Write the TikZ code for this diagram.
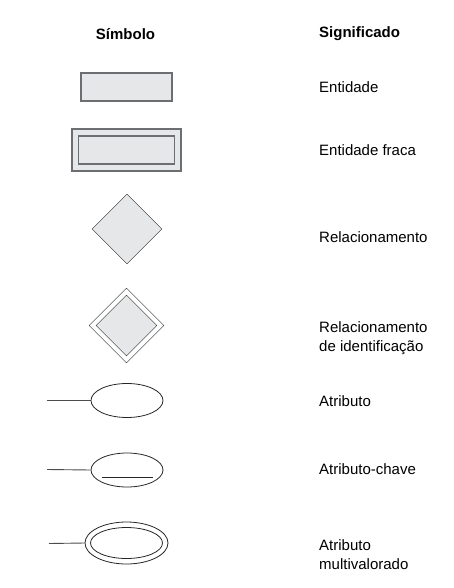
\documentclass[tikz,border=0pt]{standalone}
\usepackage{fontspec}
\setmainfont{Liberation Sans}
\usetikzlibrary{shapes,positioning,calc}
\definecolor{symfill}{HTML}{E6E7E8}
\definecolor{symline}{HTML}{6D6E71}

\begin{document}
\begin{tikzpicture}[
  x=1pt, y=-1pt,
  head/.style={font=\fontsize{15}{17}\selectfont\bfseries},
  meaning/.style={anchor=west, align=left, inner sep=0pt, font=\fontsize{15}{19}\selectfont},
  ent/.style={rectangle, draw=symline, line width=1.2pt, fill=symfill, inner sep=0pt},
  rel/.style={diamond, draw=black!85, fill=symfill, inner sep=0pt, minimum width=70pt, minimum height=70pt},
  attr/.style={ellipse, draw=black!85, line width=0.8pt, inner sep=0pt, minimum width=72pt, minimum height=34pt},
  link/.style={draw=black!70, line width=0.9pt}
]
  \useasboundingbox (0,0) rectangle (453,588);
  % column heads
  \node[head] (hsym) at (125.5,34) {Símbolo};
  \node[head, anchor=west, inner sep=0pt] (hsig) at (319,34) {Significado};

  % entidade
  \node[ent, minimum width=91pt, minimum height=28pt] (entity) at (126.5,87) {};
  \node[meaning] (mentity) at (319,87) {Entidade};

  % entidade fraca
  \node[ent, minimum width=109pt, minimum height=42pt] (weakout) at (126.5,150) {};
  \node[ent, minimum width=96pt, minimum height=28pt] (weakin) at (weakout.center) {};
  \node[meaning] (mweak) at (319,150) {Entidade fraca};

  % relacionamento
  \node[rel] (relation) at (127,229) {};
  \node[meaning] (mrelation) at (319,237) {Relacionamento};

  % relacionamento de identificacao
  \node[rel, fill=white, minimum width=75pt, minimum height=75pt] (identout) at (126.5,325.5) {};
  \node[rel, minimum width=61pt, minimum height=61pt] (identin) at (identout.center) {};
  \node[meaning] (mident) at (319,338.5) {Relacionamento\\de identificação};

  % atributo
  \node[attr] (attrib) at (127,400.5) {};
  \coordinate (attribend) at (47,400.5);
  \draw[link] (attribend) -- (attrib.west);
  \node[meaning] (mattrib) at (319,401) {Atributo};

  % atributo-chave
  \node[attr] (keyattr) at (127,470) {};
  \coordinate (keyend) at (47,469.5);
  \draw[link] (keyend) -- (keyattr.west);
  \draw[black!85, line width=0.9pt] ([xshift=-25pt,yshift=-7pt]keyattr.center) -- ([xshift=26pt,yshift=-7pt]keyattr.center);
  \node[meaning] (mkey) at (319,469) {Atributo-chave};

  % atributo multivalorado
  \node[attr, minimum width=83pt, minimum height=42pt] (multiout) at (126.5,543) {};
  \node[attr, minimum width=72pt, minimum height=31pt] (multiin) at (multiout.center) {};
  \coordinate (multiend) at (49,543.5);
  \draw[link] (multiend) -- (multiout.west);
  \node[meaning] (mmulti) at (319,554.5) {Atributo\\multivalorado};
\end{tikzpicture}
\end{document}
